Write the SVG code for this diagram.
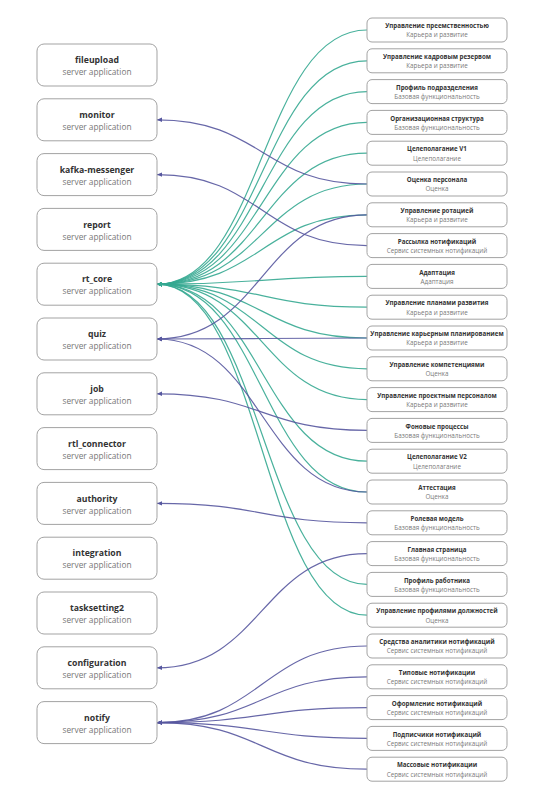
<svg xmlns="http://www.w3.org/2000/svg" width="548" height="801" viewBox="0 0 548 801">
<style>
.bg{fill:#ffffff}
.lb{fill:#ffffff;stroke:#a3a3a3;stroke-width:1}
.rb{fill:#ffffff;stroke:#a3a3a3;stroke-width:1}
.lt{font-family:"Open Sans","Liberation Sans",sans-serif;font-size:8.7px;font-weight:bold;fill:#333333;text-anchor:middle}
.ls{font-family:"Open Sans","Liberation Sans",sans-serif;font-size:8.3px;fill:#777777;text-anchor:middle}
.rt{font-family:"Open Sans","Liberation Sans",sans-serif;font-size:6.2px;font-weight:bold;fill:#333333;text-anchor:middle}
.rs{font-family:"Open Sans","Liberation Sans",sans-serif;font-size:6.3px;fill:#7a7a7a;text-anchor:middle}
.t{fill:none;stroke:#35a991;stroke-width:1.2;stroke-opacity:0.9;marker-end:url(#at)}
.p{fill:none;stroke:#56579f;stroke-width:1.2;stroke-opacity:0.9;marker-end:url(#ap)}
</style>
<defs>
<marker id="at" markerUnits="userSpaceOnUse" markerWidth="6" markerHeight="6" refX="5" refY="3" orient="auto"><path d="M0,0.8 L5,3 L0,5.2 Z" fill="#35a991"/></marker>
<marker id="ap" markerUnits="userSpaceOnUse" markerWidth="6" markerHeight="6" refX="5" refY="3" orient="auto"><path d="M0,0.8 L5,3 L0,5.2 Z" fill="#56579f"/></marker>
</defs>
<rect class="bg" x="0" y="0" width="548" height="801"/>

<g id="connectors">
<path class="t" d="M367,30 C262,30 262,284.2 157,284.2"/>
<path class="t" d="M367,60.8 C262,60.8 262,284.2 157,284.2"/>
<path class="t" d="M367,91.6 C262,91.6 262,284.2 157,284.2"/>
<path class="t" d="M367,122.4 C262,122.4 262,284.2 157,284.2"/>
<path class="t" d="M367,153.2 C262,153.2 262,284.2 157,284.2"/>
<path class="t" d="M367,184 C262,184 262,284.2 157,284.2"/>
<path class="t" d="M367,214.8 C262,214.8 262,284.2 157,284.2"/>
<path class="t" d="M367,276.4 C262,276.4 262,284.2 157,284.2"/>
<path class="t" d="M367,307.2 C262,307.2 262,284.2 157,284.2"/>
<path class="t" d="M367,338 C262,338 262,284.2 157,284.2"/>
<path class="t" d="M367,368.8 C262,368.8 262,284.2 157,284.2"/>
<path class="t" d="M367,399.6 C262,399.6 262,284.2 157,284.2"/>
<path class="t" d="M367,461.2 C262,461.2 262,284.2 157,284.2"/>
<path class="t" d="M367,492 C262,492 262,284.2 157,284.2"/>
<path class="t" d="M367,584.4 C262,584.4 262,284.2 157,284.2"/>
<path class="t" d="M367,615.2 C262,615.2 262,284.2 157,284.2"/>

<path class="p" d="M367,184 C262,184 262,119.8 157,119.8"/>
<path class="p" d="M367,245.6 C262,245.6 262,174.6 157,174.6"/>
<path class="p" d="M367,214.8 C262,214.8 262,339 157,339"/>
<path class="p" d="M367,338 C262,338 262,339 157,339"/>
<path class="p" d="M367,492 C262,492 262,339 157,339"/>
<path class="p" d="M367,430.4 C262,430.4 262,393.8 157,393.8"/>
<path class="p" d="M367,522.8 C262,522.8 262,503.4 157,503.4"/>
<path class="p" d="M367,553.6 C262,553.6 262,667.8 157,667.8"/>
<path class="p" d="M367,646 C262,646 262,722.6 157,722.6"/>
<path class="p" d="M367,676.8 C262,676.8 262,722.6 157,722.6"/>
<path class="p" d="M367,707.6 C262,707.6 262,722.6 157,722.6"/>
<path class="p" d="M367,738.4 C262,738.4 262,722.6 157,722.6"/>
<path class="p" d="M367,769.2 C262,769.2 262,722.6 157,722.6"/>
</g>

<g id="fileupload"><rect class="lb" x="37" y="44" width="120" height="42" rx="7"/><text class="lt" x="97" y="63.2">fileupload</text><text class="ls" x="97" y="75.2">server application</text></g>
<g id="monitor"><rect class="lb" x="37" y="98.8" width="120" height="42" rx="7"/><text class="lt" x="97" y="118">monitor</text><text class="ls" x="97" y="130">server application</text></g>
<g id="kafka-messenger"><rect class="lb" x="37" y="153.6" width="120" height="42" rx="7"/><text class="lt" x="97" y="172.8">kafka-messenger</text><text class="ls" x="97" y="184.8">server application</text></g>
<g id="report"><rect class="lb" x="37" y="208.4" width="120" height="42" rx="7"/><text class="lt" x="97" y="227.6">report</text><text class="ls" x="97" y="239.6">server application</text></g>
<g id="rt_core"><rect class="lb" x="37" y="263.2" width="120" height="42" rx="7"/><text class="lt" x="97" y="282.4">rt_core</text><text class="ls" x="97" y="294.4">server application</text></g>
<g id="quiz"><rect class="lb" x="37" y="318" width="120" height="42" rx="7"/><text class="lt" x="97" y="337.2">quiz</text><text class="ls" x="97" y="349.2">server application</text></g>
<g id="job"><rect class="lb" x="37" y="372.8" width="120" height="42" rx="7"/><text class="lt" x="97" y="392">job</text><text class="ls" x="97" y="404">server application</text></g>
<g id="rtl_connector"><rect class="lb" x="37" y="427.6" width="120" height="42" rx="7"/><text class="lt" x="97" y="446.8">rtl_connector</text><text class="ls" x="97" y="458.8">server application</text></g>
<g id="authority"><rect class="lb" x="37" y="482.4" width="120" height="42" rx="7"/><text class="lt" x="97" y="501.6">authority</text><text class="ls" x="97" y="513.6">server application</text></g>
<g id="integration"><rect class="lb" x="37" y="537.2" width="120" height="42" rx="7"/><text class="lt" x="97" y="556.4">integration</text><text class="ls" x="97" y="568.4">server application</text></g>
<g id="tasksetting2"><rect class="lb" x="37" y="592" width="120" height="42" rx="7"/><text class="lt" x="97" y="611.2">tasksetting2</text><text class="ls" x="97" y="623.2">server application</text></g>
<g id="configuration"><rect class="lb" x="37" y="646.8" width="120" height="42" rx="7"/><text class="lt" x="97" y="666">configuration</text><text class="ls" x="97" y="678">server application</text></g>
<g id="notify"><rect class="lb" x="37" y="701.6" width="120" height="42" rx="7"/><text class="lt" x="97" y="720.8">notify</text><text class="ls" x="97" y="732.8">server application</text></g>

<g id="r01"><rect class="rb" x="367" y="18" width="140" height="24" rx="5"/><text class="rt" x="437" y="28.2">Управление преемственностью</text><text class="rs" x="437" y="37.3">Карьера и развитие</text></g>
<g id="r02"><rect class="rb" x="367" y="48.8" width="140" height="24" rx="5"/><text class="rt" x="437" y="59">Управление кадровым резервом</text><text class="rs" x="437" y="68.1">Карьера и развитие</text></g>
<g id="r03"><rect class="rb" x="367" y="79.6" width="140" height="24" rx="5"/><text class="rt" x="437" y="89.8">Профиль подразделения</text><text class="rs" x="437" y="98.9">Базовая функциональность</text></g>
<g id="r04"><rect class="rb" x="367" y="110.4" width="140" height="24" rx="5"/><text class="rt" x="437" y="120.6">Организационная структура</text><text class="rs" x="437" y="129.7">Базовая функциональность</text></g>
<g id="r05"><rect class="rb" x="367" y="141.2" width="140" height="24" rx="5"/><text class="rt" x="437" y="151.4">Целеполагание V1</text><text class="rs" x="437" y="160.5">Целеполагание</text></g>
<g id="r06"><rect class="rb" x="367" y="172" width="140" height="24" rx="5"/><text class="rt" x="437" y="182.2">Оценка персонала</text><text class="rs" x="437" y="191.3">Оценка</text></g>
<g id="r07"><rect class="rb" x="367" y="202.8" width="140" height="24" rx="5"/><text class="rt" x="437" y="213">Управление ротацией</text><text class="rs" x="437" y="222.1">Карьера и развитие</text></g>
<g id="r08"><rect class="rb" x="367" y="233.6" width="140" height="24" rx="5"/><text class="rt" x="437" y="243.8">Рассылка нотификаций</text><text class="rs" x="437" y="252.9">Сервис системных нотификаций</text></g>
<g id="r09"><rect class="rb" x="367" y="264.4" width="140" height="24" rx="5"/><text class="rt" x="437" y="274.6">Адаптация</text><text class="rs" x="437" y="283.7">Адаптация</text></g>
<g id="r10"><rect class="rb" x="367" y="295.2" width="140" height="24" rx="5"/><text class="rt" x="437" y="305.4">Управление планами развития</text><text class="rs" x="437" y="314.5">Карьера и развитие</text></g>
<g id="r11"><rect class="rb" x="367" y="326" width="140" height="24" rx="5"/><text class="rt" x="437" y="336.2">Управление карьерным планированием</text><text class="rs" x="437" y="345.3">Карьера и развитие</text></g>
<g id="r12"><rect class="rb" x="367" y="356.8" width="140" height="24" rx="5"/><text class="rt" x="437" y="367">Управление компетенциями</text><text class="rs" x="437" y="376.1">Оценка</text></g>
<g id="r13"><rect class="rb" x="367" y="387.6" width="140" height="24" rx="5"/><text class="rt" x="437" y="397.8">Управление проектным персоналом</text><text class="rs" x="437" y="406.9">Карьера и развитие</text></g>
<g id="r14"><rect class="rb" x="367" y="418.4" width="140" height="24" rx="5"/><text class="rt" x="437" y="428.6">Фоновые процессы</text><text class="rs" x="437" y="437.7">Базовая функциональность</text></g>
<g id="r15"><rect class="rb" x="367" y="449.2" width="140" height="24" rx="5"/><text class="rt" x="437" y="459.4">Целеполагание V2</text><text class="rs" x="437" y="468.5">Целеполагание</text></g>
<g id="r16"><rect class="rb" x="367" y="480" width="140" height="24" rx="5"/><text class="rt" x="437" y="490.2">Аттестация</text><text class="rs" x="437" y="499.3">Оценка</text></g>
<g id="r17"><rect class="rb" x="367" y="510.8" width="140" height="24" rx="5"/><text class="rt" x="437" y="521">Ролевая модель</text><text class="rs" x="437" y="530.1">Базовая функциональность</text></g>
<g id="r18"><rect class="rb" x="367" y="541.6" width="140" height="24" rx="5"/><text class="rt" x="437" y="551.8">Главная страница</text><text class="rs" x="437" y="560.9">Базовая функциональность</text></g>
<g id="r19"><rect class="rb" x="367" y="572.4" width="140" height="24" rx="5"/><text class="rt" x="437" y="582.6">Профиль работника</text><text class="rs" x="437" y="591.7">Базовая функциональность</text></g>
<g id="r20"><rect class="rb" x="367" y="603.2" width="140" height="24" rx="5"/><text class="rt" x="437" y="613.4">Управление профилями должностей</text><text class="rs" x="437" y="622.5">Оценка</text></g>
<g id="r21"><rect class="rb" x="367" y="634" width="140" height="24" rx="5"/><text class="rt" x="437" y="644.2">Средства аналитики нотификаций</text><text class="rs" x="437" y="653.3">Сервис системных нотификаций</text></g>
<g id="r22"><rect class="rb" x="367" y="664.8" width="140" height="24" rx="5"/><text class="rt" x="437" y="675">Типовые нотификации</text><text class="rs" x="437" y="684.1">Сервис системных нотификаций</text></g>
<g id="r23"><rect class="rb" x="367" y="695.6" width="140" height="24" rx="5"/><text class="rt" x="437" y="705.8">Оформление нотификаций</text><text class="rs" x="437" y="714.9">Сервис системных нотификаций</text></g>
<g id="r24"><rect class="rb" x="367" y="726.4" width="140" height="24" rx="5"/><text class="rt" x="437" y="736.6">Подписчики нотификаций</text><text class="rs" x="437" y="745.7">Сервис системных нотификаций</text></g>
<g id="r25"><rect class="rb" x="367" y="757.2" width="140" height="24" rx="5"/><text class="rt" x="437" y="767.4">Массовые нотификации</text><text class="rs" x="437" y="776.5">Сервис системных нотификаций</text></g>
</svg>
